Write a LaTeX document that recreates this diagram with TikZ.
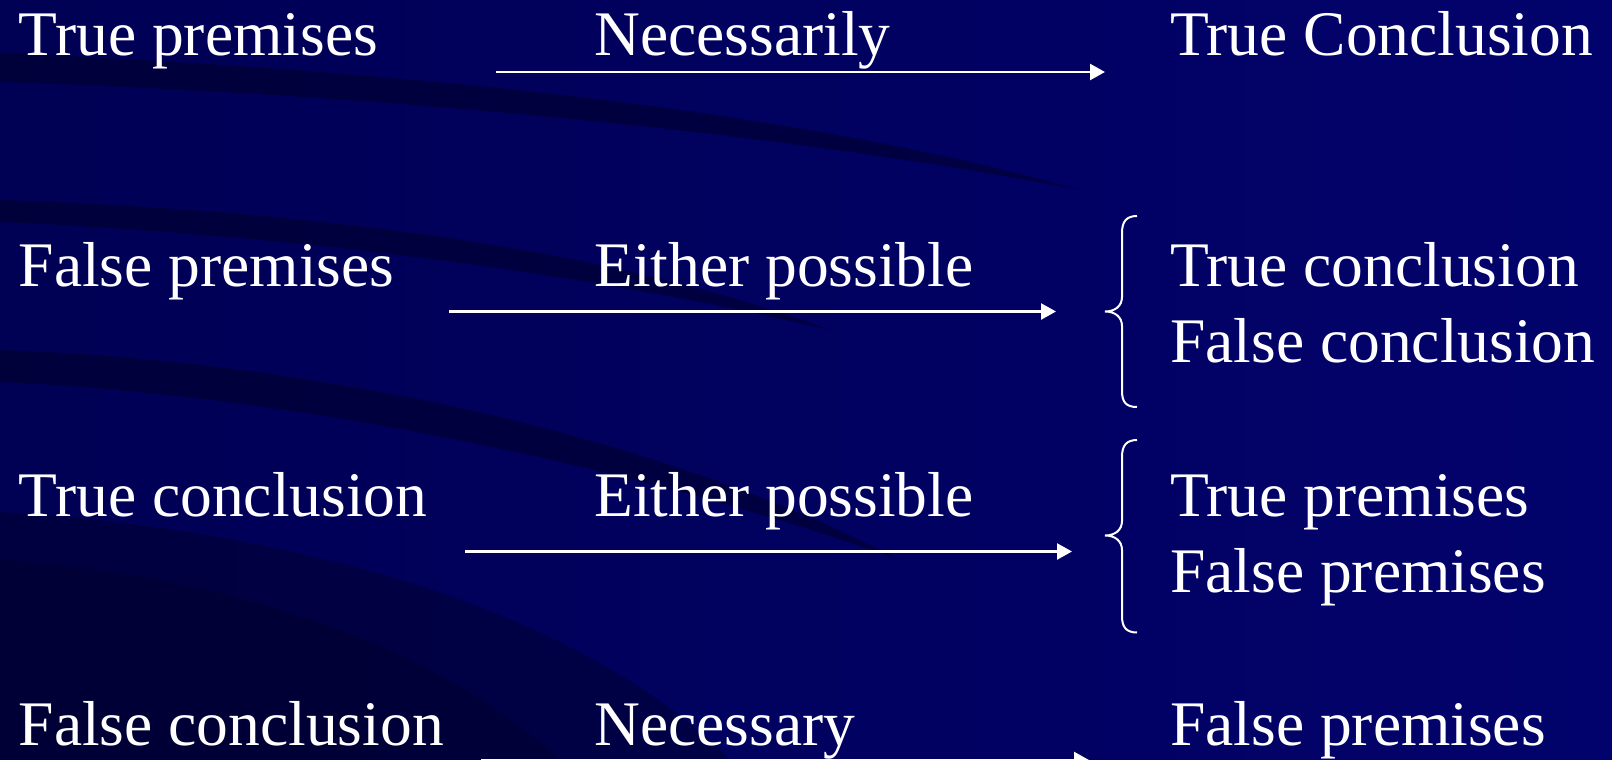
\documentclass[tikz,border=0pt]{standalone}
\usepackage{fontspec}
\setmainfont{Liberation Serif}
\usetikzlibrary{arrows.meta}
\definecolor{bgL}{RGB}{0,0,84}
\definecolor{bgR}{RGB}{2,2,108}
\definecolor{swoosh}{RGB}{0,0,40}
\tikzset{
  lbl/.style={anchor=base west, inner sep=0pt, text=white, font=\fontsize{63.5}{70}\selectfont},
  conn/.style={draw=white, line width=2.4pt, -{Triangle[length=15pt,width=16pt]}},
  bracepath/.style={draw=white, line width=2pt},
  band/.style={fill=swoosh, opacity=0.55, draw=none}
}
\begin{document}
\begin{tikzpicture}[x=1pt,y=-1pt]
\useasboundingbox (0,0) rectangle (1612,760);
% background
\shade[left color=bgL, right color=bgR] (0,0) rectangle (1612,760);
% decorative dark swooshes
\fill[band] (0,53) .. controls (400,70) and (800,110) .. (1080,190)
  .. controls (800,135) and (400,95) .. (0,82) -- cycle;
\fill[band] (0,200) .. controls (300,210) and (600,245) .. (830,330)
  .. controls (600,275) and (300,235) .. (0,222) -- cycle;
\fill[band] (0,350) .. controls (300,360) and (650,430) .. (900,560)
  .. controls (650,470) and (300,395) .. (0,382) -- cycle;
\fill[swoosh, opacity=0.45] (0,512) .. controls (300,530) and (580,610) .. (730,760)
  -- (0,760) -- cycle;
\fill[swoosh, opacity=0.4] (0,560) .. controls (220,575) and (430,640) .. (560,760)
  -- (0,760) -- cycle;
% row 1
\node[lbl] (tp1) at (18.5,56) {True premises};
\node[lbl] (nec1) at (594,56) {Necessarily};
\node[lbl] (tc1) at (1170,56) {True Conclusion};
\coordinate (a1s) at (496,72);
\coordinate (a1e) at (1105,72);
\draw[conn] (a1s) -- (a1e);
% row 2
\node[lbl] (fp2) at (18.5,286) {False premises};
\node[lbl] (ep2) at (594,286) {Either possible};
\node[lbl] (tc2) at (1170,286) {True conclusion};
\node[lbl] (fc2) at (1170,362) {False conclusion};
\coordinate (a2s) at (449,311.5);
\coordinate (a2e) at (1056,311.5);
\draw[conn] (a2s) -- (a2e);
\draw[bracepath] (1137,216) .. controls (1126,216) and (1122,222) .. (1122,233)
  -- (1122,297) .. controls (1122,306) and (1115,311.5) .. (1105,311.5)
  .. controls (1115,311.5) and (1122,317) .. (1122,326)
  -- (1122,391) .. controls (1122,402) and (1126,407) .. (1137,407);
% row 3
\node[lbl] (tc3) at (18.5,516) {True conclusion};
\node[lbl] (ep3) at (594,516) {Either possible};
\node[lbl] (tp3) at (1170,516) {True premises};
\node[lbl] (fp3) at (1170,592) {False premises};
\coordinate (a3s) at (465,551.5);
\coordinate (a3e) at (1072,551.5);
\draw[conn] (a3s) -- (a3e);
\draw[bracepath] (1137,440) .. controls (1126,440) and (1122,446) .. (1122,457)
  -- (1122,521) .. controls (1122,530) and (1115,535.5) .. (1105,535.5)
  .. controls (1115,535.5) and (1122,541) .. (1122,550)
  -- (1122,616) .. controls (1122,627) and (1126,632.5) .. (1137,632.5);
% row 4
\node[lbl] (fc4) at (18.5,745.5) {False conclusion};
\node[lbl] (nec4) at (594,745.5) {Necessary};
\node[lbl] (fp4) at (1170,745.5) {False premises};
\coordinate (a4s) at (481,760);
\coordinate (a4e) at (1089,760);
\draw[conn] (a4s) -- (a4e);
\end{tikzpicture}
\end{document}
